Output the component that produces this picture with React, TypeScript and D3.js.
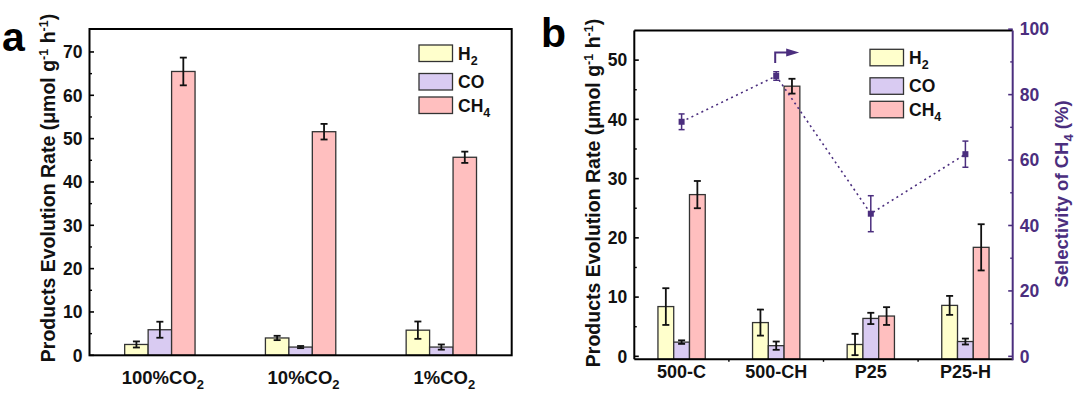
import React from 'react';
import * as d3 from 'd3';

// 面板 a：不同 CO2 濃度
const concA = ['100%', '10%', '1%'];
const h2A = [2.5, 4.0, 5.8];
const h2AErr = [0.7, 0.5, 2.0];
const coA = [5.9, 1.9, 1.9];
const coAErr = [1.85, 0.25, 0.6];
const ch4A = [65.5, 51.6, 45.7];
const ch4AErr = [3.2, 1.8, 1.3];

// 面板 b：不同樣品
const samplesB = ['500-C', '500-CH', 'P25', 'P25-H'];
const h2B = [8.4, 5.7, 2.0, 8.6];
const h2BErr = [3.1, 2.2, 1.8, 1.6];
const coB = [2.4, 1.8, 6.4, 2.5];
const coBErr = [0.3, 0.7, 0.95, 0.5];
const ch4B = [27.3, 45.6, 6.8, 18.4];
const ch4BErr = [2.3, 1.25, 1.5, 3.9];
const selB = [71.7, 85.7, 43.6, 61.8];
const selBErr = [2.4, 1.3, 5.5, 4.0];

const series = ['H2', 'CO', 'CH4'];
const seriesSub = ['2', '', '4'];
const seriesBase = ['H', 'CO', 'CH'];
const colors = ['#ffffcc', '#d9cbf2', '#ffbfbf'];

const ticksA = [0, 10, 20, 30, 40, 50, 60, 70];
const minorA = [5, 15, 25, 35, 45, 55, 65];
const ticksB = [0, 10, 20, 30, 40, 50];
const minorB = [5, 15, 25, 35, 45];
const ticksR = [0, 20, 40, 60, 80, 100];
const minorR = [10, 30, 50, 70, 90];

const FONT = '"Liberation Sans", Arial, sans-serif';
const PURPLE = '#4b2e7e';
const EDGE = '#333';

const ErrBar = ({ x, y1, y2, cap, color, sw }: any) => (
    <g stroke={color} strokeWidth={sw}>
        <line x1={x} x2={x} y1={y1} y2={y2} />
        <line x1={x - cap} x2={x + cap} y1={y1} y2={y1} />
        <line x1={x - cap} x2={x + cap} y1={y2} y2={y2} />
    </g>
);

const YLabel = ({ x, y }: any) => (
    <text transform={`translate(${x},${y}) rotate(-90)`} textAnchor="middle" fontSize={19.5} fontWeight="bold" fill="#111">
        Products Evolution Rate (μmol g<tspan dy={-7} fontSize={12.5}>-1</tspan><tspan dy={7}> h</tspan><tspan dy={-7} fontSize={12.5}>-1</tspan><tspan dy={7}>)</tspan>
    </text>
);

const Legend = ({ x, y }: any) => (
    <g>
        {series.map((s, i) => {
            const yy = y + [0, 28.5, 52][i];
            return (
                <g key={s}>
                    <rect x={x} y={yy} width={33.5} height={16.5} fill={colors[i]} stroke={EDGE} strokeWidth={1.3} />
                    <text x={x + 39} y={yy + 14.5} fontSize={17.5} fontWeight="bold" fill="#111">
                        {seriesBase[i]}
                        {seriesSub[i] && <tspan dy={5} fontSize={12.5}>{seriesSub[i]}</tspan>}
                    </text>
                </g>
            );
        })}
    </g>
);

const PanelA = () => {
    const L = 89.5, R = 511.7, T = 29, B = 355.3;
    const x = d3.scaleBand().domain(concA).range([L, R]);
    const y = d3.scaleLinear().domain([0, 75.3]).range([B, T]);
    const bw = x.bandwidth() / 6;
    const xs = d3.scaleBand().domain(series).range([-bw * 1.5, bw * 1.5]);
    const vals = [h2A, coA, ch4A];
    const errs = [h2AErr, coAErr, ch4AErr];
    return (
        <g>
            {concA.map((c, ci) => series.map((s, si) => {
                const bx = x(c)! + x.bandwidth() / 2 + xs(s)!;
                const v = vals[si][ci], e = errs[si][ci];
                return (
                    <g key={c + s}>
                        <rect x={bx} y={y(v)} width={bw} height={y(0) - y(v)} fill={colors[si]} stroke={EDGE} strokeWidth={1.3} />
                        <ErrBar x={bx + bw / 2} y1={y(v + e)} y2={y(v - e)} cap={3.5} color="#111" sw={1.8} />
                    </g>
                );
            }))}
            <rect x={L} y={T} width={R - L} height={B - T} fill="none" stroke="#000" strokeWidth={2} />
            {ticksA.map(t => (
                <g key={t}>
                    <line x1={L} x2={L + 4.5} y1={y(t)} y2={y(t)} stroke="#000" strokeWidth={1.6} />
                    <text x={L - 7} y={y(t) + 6.3} textAnchor="end" fontSize={17.5} fontWeight="bold" fill="#111">{t}</text>
                </g>
            ))}
            {minorA.map(t => <line key={t} x1={L} x2={L + 2.5} y1={y(t)} y2={y(t)} stroke="#000" strokeWidth={1.4} />)}
            {concA.map(c => (
                <text key={c} x={x(c)! + x.bandwidth() / 2 + 3} y={384} textAnchor="middle" fontSize={18.5} fontWeight="bold" fill="#111">
                    {c}CO<tspan dy={5} fontSize={13}>2</tspan>
                </text>
            ))}
            <YLabel x={55} y={188} />
            <Legend x={419} y={45} />
            <text x={2} y={51} fontSize={41} fontWeight="bold" fill="#000">a</text>
        </g>
    );
};

const PanelB = () => {
    const L = 634.3, R = 1012.7, T = 30.5, B = 359.3;
    const x = d3.scaleBand().domain(samplesB).range([L, R]);
    const y = d3.scaleLinear().domain([-0.5, 55]).range([B, T]);
    const yr = d3.scaleLinear().domain([-0.9, 99.6]).range([B, T]);
    const bw = x.bandwidth() / 6;
    const xs = d3.scaleBand().domain(series).range([-bw * 1.5, bw * 1.5]);
    const vals = [h2B, coB, ch4B];
    const errs = [h2BErr, coBErr, ch4BErr];
    const cx = (s: string) => x(s)! + x.bandwidth() / 2;
    const line = d3.line<number>().x((_, i) => cx(samplesB[i])).y(d => yr(d));
    const ax = cx(samplesB[1]) - 1, ay = yr(selB[1]) - 13;
    return (
        <g>
            {samplesB.map((c, ci) => series.map((s, si) => {
                const bx = cx(c) + xs(s)!;
                const v = vals[si][ci], e = errs[si][ci];
                return (
                    <g key={c + s}>
                        <rect x={bx} y={y(v)} width={bw} height={B - y(v)} fill={colors[si]} stroke={EDGE} strokeWidth={1.3} />
                        <ErrBar x={bx + bw / 2} y1={y(v + e)} y2={y(v - e)} cap={3.5} color="#111" sw={1.8} />
                    </g>
                );
            }))}
            <path d={line(selB)!} fill="none" stroke={PURPLE} strokeWidth={1.6} strokeDasharray="2,3.5" />
            {samplesB.map((c, i) => (
                <g key={c}>
                    <ErrBar x={cx(c)} y1={yr(selB[i] + selBErr[i])} y2={yr(selB[i] - selBErr[i])} cap={3} color={PURPLE} sw={1.5} />
                    <rect x={cx(c) - 3} y={yr(selB[i]) - 3} width={6} height={6} fill={PURPLE} />
                </g>
            ))}
            {/* 箭頭指向右軸 */}
            <path d={`M${ax},${ay} V${ay - 10.5} H${ax + 13}`} fill="none" stroke={PURPLE} strokeWidth={2} />
            <path d={`M${ax + 11},${ay - 14.5} L${ax + 24},${ay - 10.5} L${ax + 11},${ay - 6.5} Z`} fill={PURPLE} />
            <line x1={L} x2={R} y1={T} y2={T} stroke="#000" strokeWidth={2} />
            <line x1={L} x2={R} y1={B} y2={B} stroke="#000" strokeWidth={2} />
            <line x1={L} x2={L} y1={T} y2={B} stroke="#000" strokeWidth={2} />
            <line x1={R} x2={R} y1={T} y2={B + 1} stroke={PURPLE} strokeWidth={2} />
            {ticksB.map(t => (
                <g key={t}>
                    <line x1={L} x2={L + 4.5} y1={y(t)} y2={y(t)} stroke="#000" strokeWidth={1.6} />
                    <text x={L - 7} y={y(t) + 6.3} textAnchor="end" fontSize={17.5} fontWeight="bold" fill="#111">{t}</text>
                </g>
            ))}
            {minorB.map(t => <line key={t} x1={L} x2={L + 2.5} y1={y(t)} y2={y(t)} stroke="#000" strokeWidth={1.4} />)}
            {ticksR.map(t => (
                <g key={t}>
                    <line x1={R} x2={R - 4.5} y1={yr(t)} y2={yr(t)} stroke={PURPLE} strokeWidth={1.6} />
                    <text x={R + 7} y={yr(t) + 6.3} fontSize={17.5} fontWeight="bold" fill={PURPLE}>{t}</text>
                </g>
            ))}
            {minorR.map(t => <line key={t} x1={R} x2={R - 2.5} y1={yr(t)} y2={yr(t)} stroke={PURPLE} strokeWidth={1.4} />)}
            {samplesB.slice(1).map(c => <line key={c} x1={x(c)!} x2={x(c)!} y1={B} y2={B + 2.5} stroke="#000" strokeWidth={1.4} />)}
            {samplesB.map(c => (
                <text key={c} x={cx(c)} y={378} textAnchor="middle" fontSize={18} fontWeight="bold" fill="#111">{c}</text>
            ))}
            <YLabel x={600} y={193} />
            <text transform="translate(1068,194) rotate(-90)" textAnchor="middle" fontSize={18.5} fontWeight="bold" fill={PURPLE}>
                Selectivity of CH<tspan dy={5} fontSize={13}>4</tspan><tspan dy={-5}> (%)</tspan>
            </text>
            <Legend x={870} y={49.3} />
            <text x={541} y={47} fontSize={41} fontWeight="bold" fill="#000">b</text>
        </g>
    );
};

export default function App() {
    return (
        <svg width={1080} height={398} style={{ position: 'absolute', left: 0, top: 0, background: '#fff' }} fontFamily={FONT}>
            <rect width={1080} height={398} fill="#fff" />
            <PanelA />
            <PanelB />
        </svg>
    );
}
